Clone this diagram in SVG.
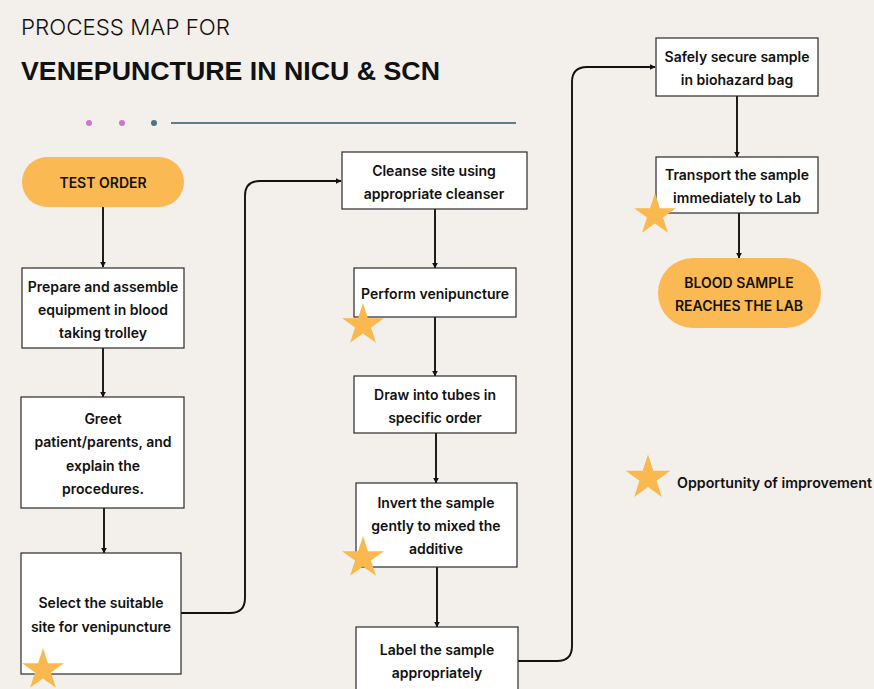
<svg xmlns="http://www.w3.org/2000/svg" xmlns:xlink="http://www.w3.org/1999/xlink" width="874" height="689" viewBox="0 0 874 689">
<defs>
<style>
.box{fill:#ffffff;stroke:#2a2a2a;stroke-width:1.2}
.pill{fill:#fbb954}
.t{font-family:Inter,"Noto Sans","Liberation Sans",sans-serif;font-weight:600;font-size:14px;fill:#111111;text-anchor:middle}
.c{fill:none;stroke:#111111;stroke-width:1.9}
.star{fill:#f9b94f}
</style>
<marker id="ah" viewBox="0 0 10 10" refX="9" refY="5" markerWidth="6" markerHeight="6" orient="auto" markerUnits="userSpaceOnUse">
<path d="M0,0 L10,5 L0,10 z" fill="#111111"/>
</marker>
<path id="star" d="M0,-22 L4.94,-6.8 L20.92,-6.8 L7.99,2.6 L12.93,17.8 L0,8.4 L-12.93,17.8 L-7.99,2.6 L-20.92,-6.8 L-4.94,-6.8 z"/>
</defs>
<rect width="874" height="689" fill="#f3efeb"/>

<g id="title">
<text x="21" y="35" font-family="Inter,'Liberation Sans',sans-serif" font-weight="300" font-size="22" fill="#111" textLength="209" lengthAdjust="spacingAndGlyphs">PROCESS MAP FOR</text>
<text x="21" y="80" font-family="'Liberation Sans',Arial,sans-serif" font-weight="700" font-size="26" fill="#111" textLength="419" lengthAdjust="spacingAndGlyphs">VENEPUNCTURE IN NICU &amp; SCN</text>
<circle cx="89" cy="123" r="3" fill="#d177c8"/>
<circle cx="122" cy="123" r="3" fill="#d177c8"/>
<circle cx="154" cy="123" r="3" fill="#4e7482"/>
<line x1="171" y1="123" x2="516" y2="123" stroke="#5a7d88" stroke-width="2"/>
</g>

<g id="connectors">
<line class="c" x1="103" y1="207" x2="103" y2="267" marker-end="url(#ah)"/>
<line class="c" x1="103" y1="348" x2="103" y2="397" marker-end="url(#ah)"/>
<line class="c" x1="104" y1="508" x2="104" y2="553" marker-end="url(#ah)"/>
<path class="c" d="M181,613 H230 Q245,613 245,598 V196 Q245,181 260,181 H341" marker-end="url(#ah)"/>
<line class="c" x1="435" y1="209" x2="435" y2="268" marker-end="url(#ah)"/>
<line class="c" x1="435" y1="317" x2="435" y2="376" marker-end="url(#ah)"/>
<line class="c" x1="436" y1="433" x2="436" y2="483" marker-end="url(#ah)"/>
<line class="c" x1="437" y1="567" x2="437" y2="627" marker-end="url(#ah)"/>
<path class="c" d="M518,661 H557 Q572,661 572,646 V82 Q572,67 587,67 H655" marker-end="url(#ah)"/>
<line class="c" x1="737" y1="96" x2="737" y2="157" marker-end="url(#ah)"/>
<line class="c" x1="739" y1="213" x2="739" y2="258" marker-end="url(#ah)"/>
</g>

<g id="n-test-order">
<rect class="pill" x="22" y="157" width="162" height="50" rx="25"/>
<text class="t" x="103" y="188">TEST ORDER</text>
</g>
<g id="n-prepare">
<rect class="box" x="22" y="268" width="162" height="80"/>
<text class="t" x="103" y="292">Prepare and assemble</text>
<text class="t" x="103" y="315">equipment in blood</text>
<text class="t" x="103" y="338">taking trolley</text>
</g>
<g id="n-greet">
<rect class="box" x="21" y="397" width="163" height="111"/>
<text class="t" x="103" y="424">Greet</text>
<text class="t" x="103" y="447">patient/parents, and</text>
<text class="t" x="103" y="471">explain the</text>
<text class="t" x="103" y="494">procedures.</text>
</g>
<g id="n-select">
<rect class="box" x="21" y="553" width="160" height="121"/>
<text class="t" x="101" y="608">Select the suitable</text>
<text class="t" x="101" y="632">site for venipuncture</text>
</g>
<g id="n-cleanse">
<rect class="box" x="342" y="152" width="185" height="57"/>
<text class="t" x="434" y="176">Cleanse site using</text>
<text class="t" x="434" y="199">appropriate cleanser</text>
</g>
<g id="n-perform">
<rect class="box" x="354" y="268" width="162" height="49"/>
<text class="t" x="435" y="299">Perform venipuncture</text>
</g>
<g id="n-draw">
<rect class="box" x="354" y="376" width="162" height="57"/>
<text class="t" x="435" y="400">Draw into tubes in</text>
<text class="t" x="435" y="423">specific order</text>
</g>
<g id="n-invert">
<rect class="box" x="356" y="483" width="161" height="84"/>
<text class="t" x="436" y="508">Invert the sample</text>
<text class="t" x="436" y="531">gently to mixed the</text>
<text class="t" x="436" y="554">additive</text>
</g>
<g id="n-label">
<rect class="box" x="356" y="627" width="162" height="70"/>
<text class="t" x="437" y="655">Label the sample</text>
<text class="t" x="437" y="678">appropriately</text>
</g>
<g id="n-secure">
<rect class="box" x="656" y="38" width="162" height="58"/>
<text class="t" x="737" y="62">Safely secure sample</text>
<text class="t" x="737" y="85">in biohazard bag</text>
</g>
<g id="n-transport">
<rect class="box" x="656" y="157" width="162" height="56"/>
<text class="t" x="737" y="180">Transport the sample</text>
<text class="t" x="737" y="203">immediately to Lab</text>
</g>
<g id="n-reaches">
<rect class="pill" x="658" y="258" width="163" height="70" rx="35"/>
<text class="t" x="739" y="288">BLOOD SAMPLE</text>
<text class="t" x="739" y="311">REACHES THE LAB</text>
</g>

<g id="stars">
<use xlink:href="#star" class="star" transform="translate(43,670)"/>
<use xlink:href="#star" class="star" transform="translate(363,325)"/>
<use xlink:href="#star" class="star" transform="translate(363,558)"/>
<use xlink:href="#star" class="star" transform="translate(655,215)"/>
</g>

<g id="legend">
<use xlink:href="#star" class="star" transform="translate(648,478) scale(1.07)"/>
<text x="677" y="488" font-family="Inter,'Noto Sans','Liberation Sans',sans-serif" font-weight="600" font-size="14" fill="#111" textLength="195" lengthAdjust="spacingAndGlyphs">Opportunity of improvement</text>
</g>
</svg>
